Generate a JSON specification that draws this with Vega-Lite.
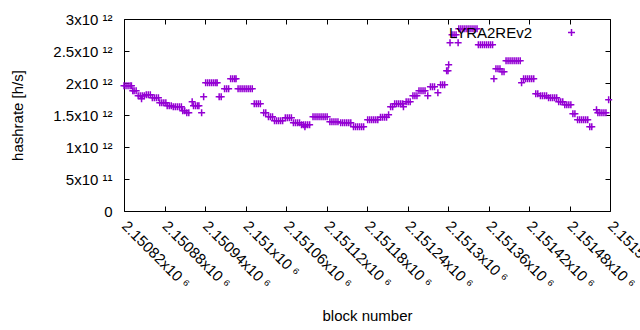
{
  "$schema": "https://vega.github.io/schema/vega-lite/v6.json",
  "autosize": {"type": "none"},
  "padding": {"left": 124, "top": 19, "right": 30, "bottom": 119},
  "width": 486,
  "height": 192,
  "config": {
    "view": {"stroke": "#000000", "strokeWidth": 1},
    "font": "Liberation Sans",
    "axis": {"grid": false, "domain": false, "labelFont": "Liberation Sans", "titleFont": "Liberation Sans", "labelColor": "#000000", "titleColor": "#000000", "tickColor": "#000000", "labelFontSize": 15, "titleFontSize": 15, "titleFontWeight": "normal"}
  },
  "data": {"values": [
    {"b":2150820,"h":1.958e12},{"b":2150823,"h":1.958e12},{"b":2150826,"h":1.958e12},{"b":2150829,"h":1.958e12},{"b":2150831,"h":1.958e12},
    {"b":2150833,"h":1.88e12},{"b":2150835,"h":1.88e12},{"b":2150838,"h":1.88e12},
    {"b":2150841,"h":1.80e12},{"b":2150844,"h":1.80e12},{"b":2150846,"h":1.755e12},{"b":2150847,"h":1.80e12},{"b":2150850,"h":1.80e12},
    {"b":2150853,"h":1.817e12},{"b":2150856,"h":1.817e12},{"b":2150859,"h":1.817e12},
    {"b":2150862,"h":1.77e12},{"b":2150865,"h":1.77e12},{"b":2150868,"h":1.77e12},{"b":2150871,"h":1.77e12},
    {"b":2150873,"h":1.69e12},{"b":2150876,"h":1.69e12},{"b":2150879,"h":1.69e12},{"b":2150882,"h":1.69e12},
    {"b":2150884,"h":1.645e12},{"b":2150887,"h":1.645e12},{"b":2150890,"h":1.645e12},
    {"b":2150893,"h":1.63e12},{"b":2150896,"h":1.63e12},{"b":2150899,"h":1.63e12},{"b":2150902,"h":1.63e12},{"b":2150905,"h":1.63e12},
    {"b":2150907,"h":1.567e12},{"b":2150910,"h":1.567e12},
    {"b":2150913,"h":1.536e12},{"b":2150916,"h":1.536e12},
    {"b":2150921,"h":1.708e12},
    {"b":2150923,"h":1.645e12},{"b":2150926,"h":1.645e12},{"b":2150929,"h":1.645e12},{"b":2150931,"h":1.645e12},
    {"b":2150935,"h":1.536e12},
    {"b":2150938,"h":1.786e12},
    {"b":2150941,"h":2.005e12},{"b":2150944,"h":2.005e12},{"b":2150947,"h":2.005e12},{"b":2150950,"h":2.005e12},{"b":2150953,"h":2.005e12},{"b":2150956,"h":2.005e12},{"b":2150958,"h":2.005e12},
    {"b":2150961,"h":1.786e12},{"b":2150964,"h":1.786e12},
    {"b":2150969,"h":1.911e12},{"b":2150972,"h":1.911e12},{"b":2150975,"h":1.911e12},
    {"b":2150978,"h":2.067e12},{"b":2150981,"h":2.067e12},{"b":2150984,"h":2.067e12},{"b":2150986,"h":2.067e12},
    {"b":2150989,"h":1.911e12},{"b":2150992,"h":1.911e12},{"b":2150995,"h":1.911e12},{"b":2150998,"h":1.911e12},{"b":2151001,"h":1.911e12},{"b":2151004,"h":1.911e12},{"b":2151007,"h":1.911e12},{"b":2151010,"h":1.911e12},
    {"b":2151013,"h":1.677e12},{"b":2151016,"h":1.677e12},{"b":2151019,"h":1.677e12},{"b":2151022,"h":1.677e12},
    {"b":2151027,"h":1.536e12},{"b":2151030,"h":1.536e12},
    {"b":2151034,"h":1.473e12},{"b":2151037,"h":1.473e12},{"b":2151040,"h":1.473e12},
    {"b":2151043,"h":1.411e12},{"b":2151046,"h":1.411e12},{"b":2151049,"h":1.411e12},{"b":2151052,"h":1.411e12},{"b":2151055,"h":1.411e12},
    {"b":2151059,"h":1.458e12},{"b":2151062,"h":1.458e12},{"b":2151065,"h":1.458e12},{"b":2151068,"h":1.458e12},
    {"b":2151071,"h":1.38e12},{"b":2151074,"h":1.38e12},{"b":2151077,"h":1.38e12},{"b":2151080,"h":1.38e12},
    {"b":2151083,"h":1.348e12},{"b":2151086,"h":1.348e12},{"b":2151088,"h":1.317e12},{"b":2151089,"h":1.348e12},{"b":2151092,"h":1.348e12},{"b":2151095,"h":1.348e12},
    {"b":2151100,"h":1.473e12},{"b":2151103,"h":1.473e12},{"b":2151106,"h":1.473e12},{"b":2151109,"h":1.473e12},{"b":2151112,"h":1.473e12},{"b":2151115,"h":1.473e12},{"b":2151118,"h":1.473e12},{"b":2151121,"h":1.473e12},
    {"b":2151125,"h":1.395e12},{"b":2151128,"h":1.395e12},{"b":2151131,"h":1.395e12},{"b":2151134,"h":1.395e12},{"b":2151137,"h":1.395e12},
    {"b":2151141,"h":1.38e12},{"b":2151144,"h":1.38e12},{"b":2151147,"h":1.38e12},{"b":2151150,"h":1.38e12},{"b":2151153,"h":1.38e12},{"b":2151156,"h":1.38e12},
    {"b":2151160,"h":1.317e12},{"b":2151163,"h":1.317e12},{"b":2151166,"h":1.317e12},{"b":2151169,"h":1.317e12},{"b":2151172,"h":1.317e12},{"b":2151175,"h":1.317e12},
    {"b":2151181,"h":1.427e12},{"b":2151184,"h":1.427e12},{"b":2151187,"h":1.427e12},{"b":2151190,"h":1.427e12},{"b":2151193,"h":1.427e12},{"b":2151196,"h":1.427e12},
    {"b":2151200,"h":1.465e12},{"b":2151203,"h":1.465e12},{"b":2151206,"h":1.465e12},{"b":2151209,"h":1.465e12},
    {"b":2151212,"h":1.505e12},
    {"b":2151215,"h":1.63e12},{"b":2151218,"h":1.63e12},
    {"b":2151221,"h":1.677e12},{"b":2151224,"h":1.677e12},{"b":2151227,"h":1.677e12},{"b":2151230,"h":1.677e12},{"b":2151233,"h":1.677e12},{"b":2151234,"h":1.63e12},
    {"b":2151238,"h":1.708e12},{"b":2151241,"h":1.708e12},{"b":2151244,"h":1.708e12},
    {"b":2151248,"h":1.80e12},{"b":2151251,"h":1.80e12},{"b":2151254,"h":1.80e12},
    {"b":2151257,"h":1.88e12},{"b":2151260,"h":1.88e12},{"b":2151263,"h":1.88e12},{"b":2151266,"h":1.88e12},
    {"b":2151270,"h":1.80e12},
    {"b":2151274,"h":1.942e12},{"b":2151277,"h":1.942e12},{"b":2151280,"h":1.942e12},
    {"b":2151285,"h":1.848e12},
    {"b":2151289,"h":1.973e12},{"b":2151292,"h":1.973e12},{"b":2151295,"h":1.973e12},
    {"b":2151298,"h":2.19e12},{"b":2151300,"h":2.19e12},{"b":2151301,"h":2.286e12},
    {"b":2151303,"h":2.63e12},{"b":2151315,"h":2.63e12},
    {"b":2151306,"h":2.755e12},{"b":2151309,"h":2.755e12},{"b":2151312,"h":2.755e12},
    {"b":2151316,"h":2.848e12},{"b":2151319,"h":2.848e12},{"b":2151322,"h":2.848e12},{"b":2151325,"h":2.848e12},{"b":2151328,"h":2.848e12},{"b":2151331,"h":2.848e12},{"b":2151334,"h":2.848e12},{"b":2151337,"h":2.848e12},{"b":2151340,"h":2.848e12},{"b":2151343,"h":2.848e12},
    {"b":2151345,"h":2.598e12},{"b":2151348,"h":2.598e12},{"b":2151351,"h":2.598e12},{"b":2151354,"h":2.598e12},{"b":2151357,"h":2.598e12},{"b":2151360,"h":2.598e12},{"b":2151363,"h":2.598e12},{"b":2151366,"h":2.598e12},
    {"b":2151368,"h":2.067e12},
    {"b":2151371,"h":2.223e12},{"b":2151374,"h":2.223e12},{"b":2151377,"h":2.223e12},
    {"b":2151380,"h":2.177e12},{"b":2151383,"h":2.177e12},
    {"b":2151386,"h":2.348e12},{"b":2151389,"h":2.348e12},{"b":2151392,"h":2.348e12},{"b":2151395,"h":2.348e12},{"b":2151398,"h":2.348e12},{"b":2151401,"h":2.348e12},{"b":2151404,"h":2.348e12},{"b":2151407,"h":2.348e12},
    {"b":2151409,"h":2.005e12},
    {"b":2151412,"h":2.067e12},{"b":2151415,"h":2.067e12},{"b":2151418,"h":2.067e12},{"b":2151421,"h":2.067e12},{"b":2151424,"h":2.067e12},{"b":2151427,"h":2.067e12},
    {"b":2151430,"h":1.833e12},{"b":2151433,"h":1.833e12},
    {"b":2151437,"h":1.802e12},{"b":2151440,"h":1.802e12},{"b":2151443,"h":1.802e12},{"b":2151446,"h":1.802e12},
    {"b":2151449,"h":1.77e12},{"b":2151452,"h":1.77e12},{"b":2151455,"h":1.77e12},{"b":2151458,"h":1.77e12},{"b":2151461,"h":1.77e12},
    {"b":2151464,"h":1.708e12},{"b":2151467,"h":1.708e12},{"b":2151470,"h":1.708e12},
    {"b":2151473,"h":1.661e12},{"b":2151476,"h":1.661e12},{"b":2151479,"h":1.661e12},{"b":2151482,"h":1.661e12},
    {"b":2151485,"h":1.52e12},{"b":2151488,"h":1.52e12},
    {"b":2151492,"h":1.427e12},{"b":2151495,"h":1.427e12},{"b":2151498,"h":1.427e12},{"b":2151501,"h":1.427e12},{"b":2151504,"h":1.427e12},{"b":2151507,"h":1.427e12},
    {"b":2151510,"h":1.317e12},{"b":2151513,"h":1.317e12},
    {"b":2151520,"h":1.583e12},
    {"b":2151522,"h":1.536e12},{"b":2151525,"h":1.536e12},{"b":2151528,"h":1.536e12},{"b":2151531,"h":1.536e12},{"b":2151534,"h":1.536e12},
    {"b":2151538,"h":1.739e12}
  ]},
  "resolve": {"axis": {"x": "independent", "y": "independent"}},
  "layer": [
    {
      "mark": {"type": "point", "shape": "M-1,0H1M0,-1V1", "filled": false, "size": 49, "strokeWidth": 1.5, "opacity": 1, "clip": false},
      "encoding": {
        "x": {"field": "b", "type": "quantitative", "title": "block number",
              "scale": {"domain": [2150820, 2151540], "nice": false, "zero": false},
              "axis": {"values": [2150820, 2150880, 2150940, 2151000, 2151060, 2151120, 2151180, 2151240, 2151300, 2151360, 2151420, 2151480, 2151540],
                       "labelExpr": "format(datum.value/1e6, '.6~g') + 'x10 ⁶'",
                       "labelAngle": 45, "labelAlign": "left", "labelBaseline": "middle", "labelPadding": 17,
                       "tickSize": -5, "labelOverlap": false, "labelFlush": false, "labelBound": false,
                       "titleY": 104, "titleBaseline": "middle", "titleAnchor": "middle"}},
        "y": {"field": "h", "type": "quantitative", "title": "hashrate [h/s]",
              "scale": {"domain": [0, 3e12], "nice": false},
              "axis": {"values": [0, 5e11, 1e12, 1.5e12, 2e12, 2.5e12, 3e12],
                       "labelExpr": "datum.value == 0 ? '0' : (datum.value < 1e12 ? format(datum.value/1e11, '~g') + 'x10 ¹¹' : format(datum.value/1e12, '~g') + 'x10 ¹²')",
                       "labelPadding": 17, "tickSize": -5, "labelOverlap": false, "labelFlush": false,
                       "titleX": -107, "titleY": 96, "titleBaseline": "middle", "titleAnchor": "middle"}},
        "color": {"datum": "LYRA2REv2", "type": "nominal",
                  "scale": {"range": ["#9400d3"]},
                  "legend": {"title": null, "orient": "none", "legendX": 440, "legendY": 6, "padding": 0,
                             "symbolType": "M-1,0H1M0,-1V1", "symbolSize": 49, "symbolStrokeWidth": 1.5, "symbolFillColor": "transparent",
                             "labelAlign": "right", "labelOffset": -47, "labelFontSize": 15, "labelFont": "Liberation Sans", "labelColor": "#000000", "labelLimit": 0}}
      }
    },
    {
      "mark": {"type": "point", "opacity": 0},
      "encoding": {
        "x": {"field": "b", "type": "quantitative",
              "axis": {"orient": "top", "values": [2150820, 2150880, 2150940, 2151000, 2151060, 2151120, 2151180, 2151240, 2151300, 2151360, 2151420, 2151480, 2151540], "labels": false, "title": null, "tickSize": -5}},
        "y": {"field": "h", "type": "quantitative",
              "axis": {"orient": "right", "values": [0, 5e11, 1e12, 1.5e12, 2e12, 2.5e12, 3e12], "labels": false, "title": null, "tickSize": -5}}
      }
    }
  ]
}
